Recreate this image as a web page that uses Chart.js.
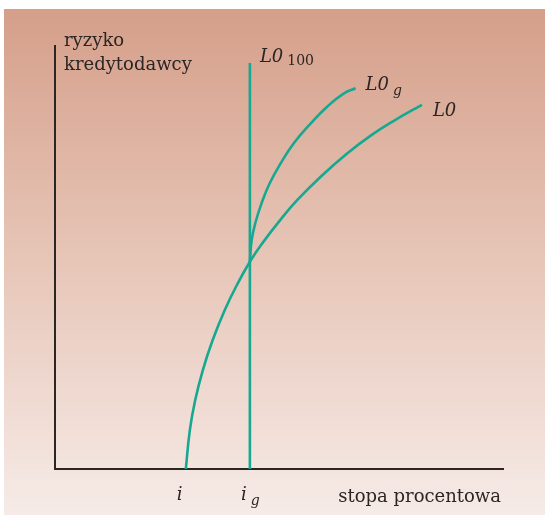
<!DOCTYPE html>
<html>
<head>
<meta charset="utf-8">
<script src="https://cdn.jsdelivr.net/npm/chart.js@4"></script>
<style>
  html, body { margin: 0; padding: 0; background: #fff; }
  #wrap { position: relative; width: 545px; height: 515px; }
  canvas { position: absolute; left: 0; top: 0; }
</style>
</head>
<body>
<div id="wrap"><canvas id="chart" width="545" height="515"></canvas></div>
<script>
// curve L0 (lender's risk vs interest rate)
const l0X = [2.92, 3.01, 3.13, 3.30, 3.52, 3.79, 4.06, 4.35, 4.63, 5.03, 5.41, 5.93, 6.52, 7.07, 7.59, 8.19];
const l0Y = [0.00, 0.92, 1.63, 2.34, 3.05, 3.76, 4.35, 4.90, 5.34, 5.89, 6.36, 6.91, 7.46, 7.90, 8.25, 8.61];

// curve L0g
const l0gX = [4.35, 4.39, 4.47, 4.61, 4.79, 5.04, 5.33, 5.71, 6.08, 6.45, 6.71];
const l0gY = [4.90, 5.41, 5.81, 6.28, 6.75, 7.23, 7.70, 8.17, 8.57, 8.88, 9.00];

// vertical line L0 100
const l0100X = [4.35, 4.35];
const l0100Y = [0.00, 9.60];

const tickValues = [2.92, 4.35];
const tickLabels = [['i', ''], ['i', 'g']];

const axisLabelY = ['ryzyko', 'kredytodawcy'];
const axisLabelX = 'stopa procentowa';

const teal = '#17a891';
const ink = '#2b2523';
const serif = '"DejaVu Serif", "Liberation Serif", serif';

function pts(xs, ys) {
    return xs.map((x, i) => ({ x: x, y: ys[i] }));
}

function lineSet(label, data) {
    return {
        label: label,
        data: data,
        showLine: true,
        borderColor: teal,
        backgroundColor: teal,
        borderWidth: 2.6,
        pointRadius: 0,
        tension: 0.45,
        fill: false
    };
}

const backdrop = {
    id: 'backdrop',
    beforeDraw(chart) {
        const ctx = chart.ctx;
        const g = ctx.createLinearGradient(0, 9, 0, 515);
        g.addColorStop(0, '#d59f8a');
        g.addColorStop(0.5, '#e7c6b8');
        g.addColorStop(1, '#f6ebe7');
        ctx.save();
        ctx.fillStyle = '#ffffff';
        ctx.fillRect(0, 0, chart.width, chart.height);
        ctx.fillStyle = g;
        ctx.fillRect(4, 9, chart.width - 4, chart.height - 9);
        ctx.restore();
    }
};

function subText(ctx, main, sub, x, y, mainFont, subFont, dy) {
    ctx.font = mainFont;
    ctx.fillText(main, x, y);
    const w = ctx.measureText(main).width;
    ctx.font = subFont;
    ctx.fillText(sub, x + w + 4, y + dy);
}

const labels = {
    id: 'labels',
    afterDraw(chart) {
        const ctx = chart.ctx;
        const xs = chart.scales.x;
        const ys = chart.scales.y;
        ctx.save();
        ctx.fillStyle = ink;
        ctx.textBaseline = 'alphabetic';
        ctx.textAlign = 'left';

        // y axis title
        ctx.font = '18px ' + serif;
        ctx.fillText(axisLabelY[0], xs.left + 9, 46);
        ctx.fillText(axisLabelY[1], xs.left + 9, 70);

        // x axis title
        ctx.textAlign = 'right';
        ctx.fillText(axisLabelX, xs.right - 2, 502);
        ctx.textAlign = 'left';

        // tick labels i, i_g
        tickValues.forEach((v, k) => {
            const px = xs.getPixelForValue(v);
            subText(ctx, tickLabels[k][0], tickLabels[k][1], px - 9, 500,
                'italic 18px ' + serif, 'italic 14px ' + serif, 5);
        });

        // curve labels
        const italicMain = 'italic 18px ' + serif;
        const subF = '14px ' + serif;
        const subI = 'italic 14px ' + serif;
        subText(ctx, 'L0', '100',
            xs.getPixelForValue(l0100X[1]) + 10, ys.getPixelForValue(l0100Y[1]) - 1,
            italicMain, subF, 3);
        subText(ctx, 'L0', 'g',
            xs.getPixelForValue(l0gX[l0gX.length - 1]) + 10, ys.getPixelForValue(l0gY[l0gY.length - 1]) + 2,
            italicMain, subI, 5);
        ctx.font = italicMain;
        ctx.fillText('L0', xs.getPixelForValue(l0X[l0X.length - 1]) + 11, ys.getPixelForValue(l0Y[l0Y.length - 1]) + 11);
        ctx.restore();
    }
};

new Chart(document.getElementById('chart'), {
    type: 'scatter',
    data: {
        datasets: [
            lineSet('L0', pts(l0X, l0Y)),
            lineSet('L0g', pts(l0gX, l0gY)),
            lineSet('L0 100', pts(l0100X, l0100Y))
        ]
    },
    options: {
        responsive: false,
        animation: false,
        layout: { padding: { left: 55, right: 42, top: 46, bottom: 46 } },
        plugins: {
            legend: { display: false },
            tooltip: { enabled: false }
        },
        scales: {
            x: {
                type: 'linear', min: 0, max: 10,
                grid: { display: false, drawTicks: false },
                ticks: { display: false },
                border: { display: true, color: ink, width: 2 }
            },
            y: {
                type: 'linear', min: 0, max: 10,
                grid: { display: false, drawTicks: false },
                ticks: { display: false },
                border: { display: true, color: ink, width: 2 }
            }
        }
    },
    plugins: [backdrop, labels]
});
</script>
</body>
</html>
